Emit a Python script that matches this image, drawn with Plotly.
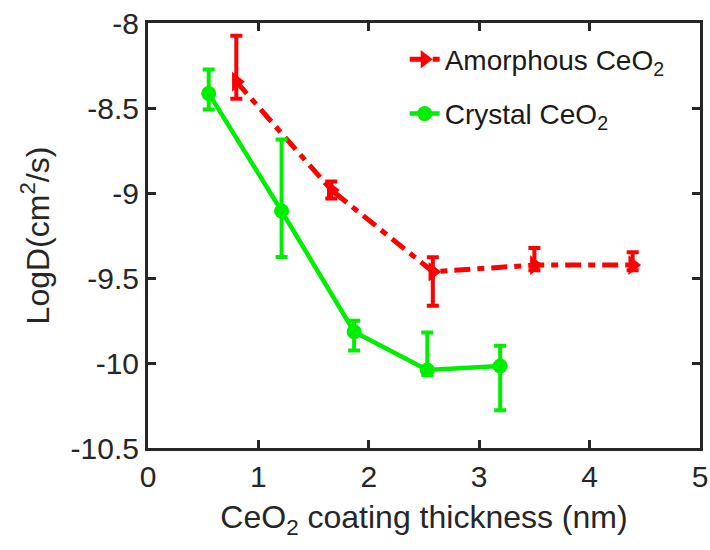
import plotly.graph_objects as go

# Amorphous CeO2 coating: thickness (nm), LogD and asymmetric error bars
amor_x = [0.80, 1.66, 2.58, 3.50, 4.39]
amor_y = [-8.345, -8.982, -9.463, -9.424, -9.424]
amor_err_plus = [0.27, 0.05, 0.085, 0.10, 0.075]
amor_err_minus = [0.10, 0.05, 0.20, 0.03, 0.03]

# Crystal CeO2 coating
cryst_x = [0.55, 1.21, 1.867, 2.53, 3.19]
cryst_y = [-8.414, -9.106, -9.816, -10.041, -10.018]
cryst_err_plus = [0.14, 0.42, 0.065, 0.22, 0.12]
cryst_err_minus = [0.095, 0.27, 0.11, 0.03, 0.26]

x_ticks = [0, 1, 2, 3, 4, 5]
y_ticks = [-8, -8.5, -9, -9.5, -10, -10.5]

RED = "#ff0000"
GREEN = "#00ee00"
FONT = "Liberation Sans, Arial, sans-serif"
INK = "#262626"

fig = go.Figure()

fig.add_trace(go.Scatter(
    x=amor_x, y=amor_y, mode="lines+markers",
    name="Amorphous CeO<sub>2</sub>", legendgroup="amor",
    line=dict(color=RED, width=5, dash="16px,7px,7px,7px"),
    marker=dict(symbol="triangle-right", size=17, color=RED),
    error_y=dict(type="data", symmetric=False, array=amor_err_plus,
                 arrayminus=amor_err_minus, color=RED, thickness=4, width=6),
))

fig.add_trace(go.Scatter(
    x=cryst_x, y=cryst_y, mode="lines+markers",
    name="Crystal CeO<sub>2</sub>", legendgroup="cryst",
    line=dict(color=GREEN, width=4.5),
    marker=dict(symbol="circle", size=15, color=GREEN),
    error_y=dict(type="data", symmetric=False, array=cryst_err_plus,
                 arrayminus=cryst_err_minus, color=GREEN, thickness=4, width=6),
))

axis_common = dict(
    showline=True, linecolor=INK, linewidth=3, mirror="ticks",
    ticks="inside", ticklen=8, tickwidth=3, tickcolor=INK,
    showgrid=False, zeroline=False, automargin=False,
    tickfont=dict(family=FONT, size=30, color=INK),
)

fig.update_layout(
    width=710, height=550,
    margin=dict(l=148, r=10, t=23, b=102),
    paper_bgcolor="white", plot_bgcolor="white",
    font=dict(family=FONT, color="#1a1a1a"),
    showlegend=True,
    legend=dict(
        x=0.465, y=0.973, xanchor="left", yanchor="top",
        bgcolor="rgba(0,0,0,0)", borderwidth=0,
        font=dict(family=FONT, size=28, color="#1a1a1a"),
        traceorder="grouped", tracegroupgap=15,
    ),
    xaxis=dict(
        range=[0, 5], tickvals=x_ticks, ticktext=[str(v) for v in x_ticks],
        title=dict(text="CeO<sub>2</sub> coating thickness (nm)",
                   font=dict(family=FONT, size=32, color=INK), standoff=14),
        **axis_common,
    ),
    yaxis=dict(
        range=[-10.5, -8], tickvals=y_ticks, ticktext=[f"{v:g}" for v in y_ticks],
        title=dict(text="LogD(cm<sup>2</sup>/s)",
                   font=dict(family=FONT, size=32, color=INK), standoff=12),
        **axis_common,
    ),
)

fig.write_html("out.html")
